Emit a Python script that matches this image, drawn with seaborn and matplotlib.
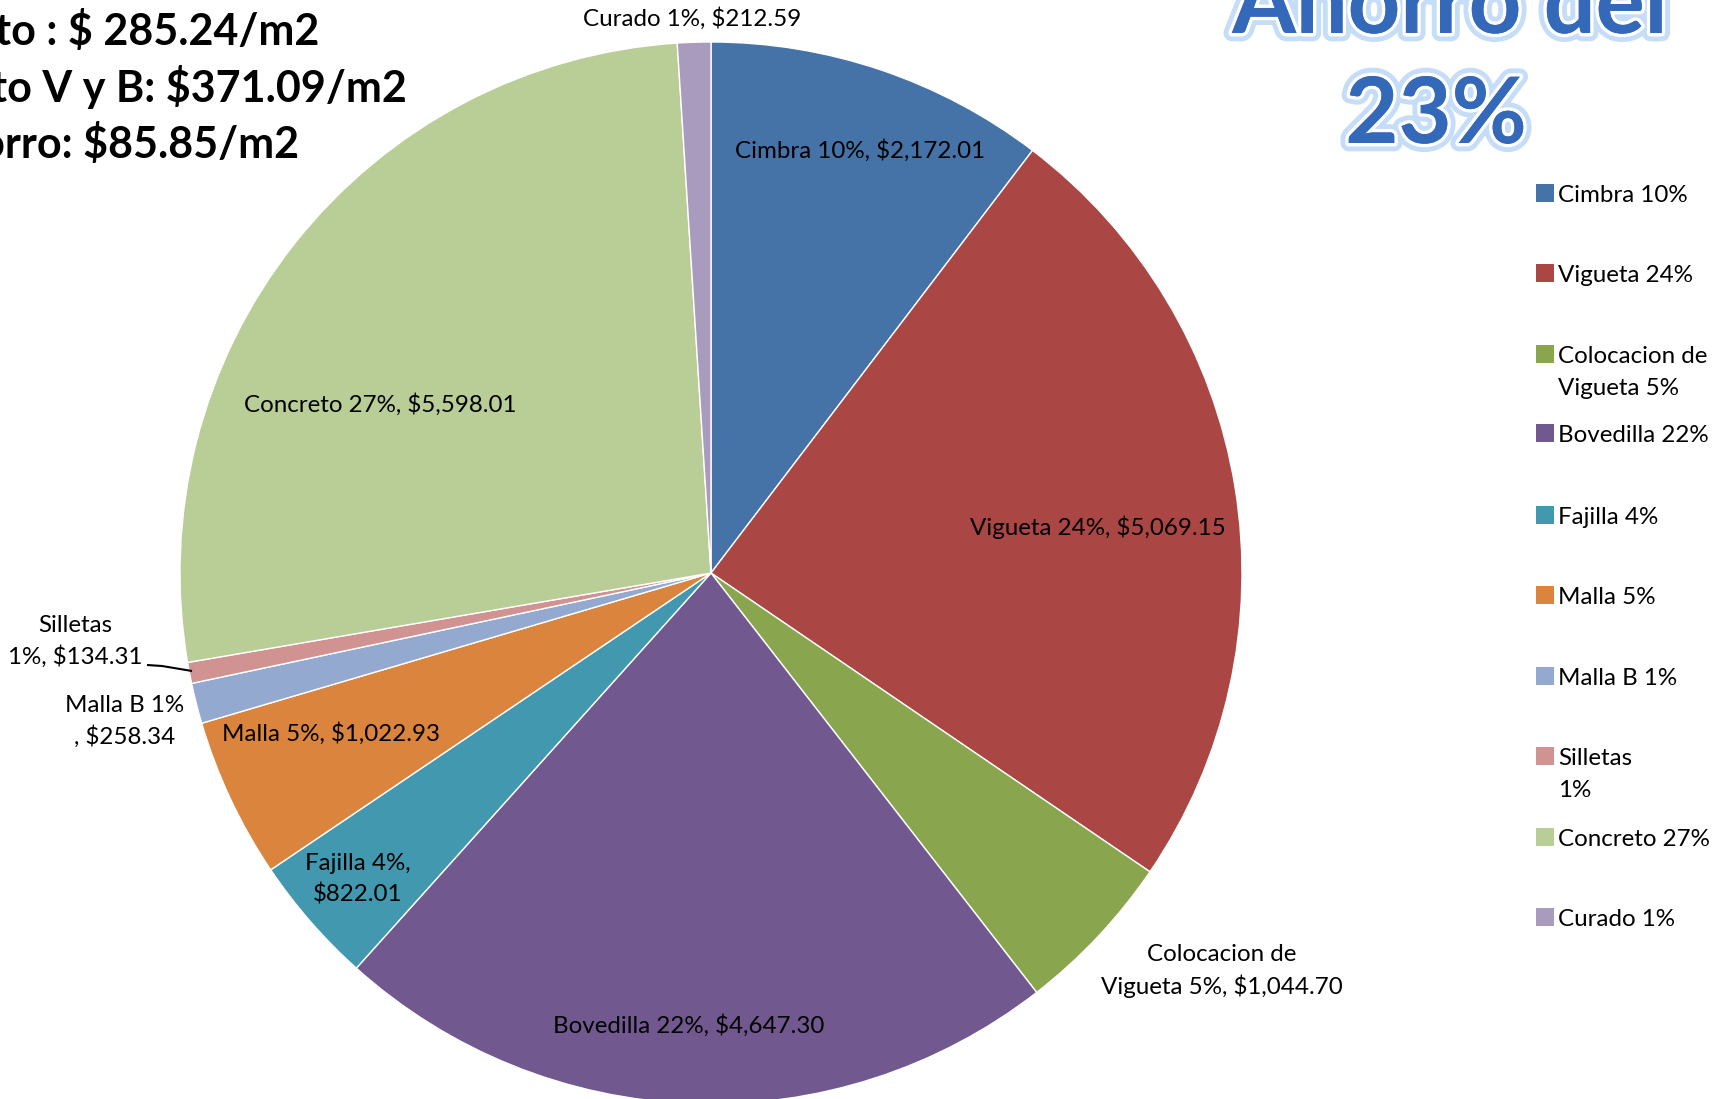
import matplotlib
matplotlib.use("Agg")
import matplotlib.pyplot as plt
import matplotlib.patheffects as pe
import seaborn as sns

# ---- data ----
categories = ["Cimbra", "Vigueta", "Colocacion de Vigueta", "Bovedilla", "Fajilla",
              "Malla", "Malla B", "Silletas", "Concreto", "Curado"]
values = [2172.01, 5069.15, 1044.70, 4647.30, 822.01, 1022.93, 258.34, 134.31, 5598.01, 212.59]
percents = [10, 24, 5, 22, 4, 5, 1, 1, 27, 1]
legend_labels = ["Cimbra 10%", "Vigueta 24%", "Colocacion de\nVigueta 5%", "Bovedilla 22%",
                 "Fajilla 4%", "Malla 5%", "Malla B 1%", "Silletas\n1%", "Concreto 27%", "Curado 1%"]
data_labels = ["Cimbra 10%, $2,172.01", "Vigueta 24%, $5,069.15", "Colocacion de\nVigueta 5%, $1,044.70",
               "Bovedilla 22%, $4,647.30", "Fajilla 4%,\n$822.01", "Malla 5%, $1,022.93",
               "Malla B 1%\n, $258.34", "Silletas\n1%, $134.31", "Concreto 27%, $5,598.01",
               "Curado 1%, $212.59"]
colors_hex = ["#4572A7", "#AA4643", "#89A54E", "#71588F", "#4198AF",
              "#DB843D", "#93A9CF", "#D19392", "#B9CD96", "#A99BBD"]
summary_lines = ["Costo : $ 285.24/m2", "Costo V y B: $371.09/m2", "Ahorro: $85.85/m2"]
title_lines = ["Ahorro del", "23%"]

# ---- style ----
sns.set_theme(style="white")
plt.rcParams["font.family"] = ["Lato", "DejaVu Sans"]
palette = sns.color_palette(colors_hex)

W, H = 1729, 1099
fig = plt.figure(figsize=(W / 100, H / 100), dpi=100)
ax = fig.add_axes([0, 0, 1, 1])

cx, cy, R = 711, 573, 531
ax.pie(values, colors=palette, startangle=-90, counterclock=True,
       center=(cx, cy), radius=R,
       wedgeprops=dict(edgecolor="white", linewidth=1.0))
ax.set_xlim(0, W)
ax.set_ylim(H, 0)
ax.set_aspect("equal")
ax.axis("off")

FS = 17.4
# data labels (positions in pixel coords)
label_pos = [(860, 151), (1098, 527), (1222, 971), (689, 1026), (358, 879),
             (331, 734), (125, 721), (75, 641), (380, 405), (692, 19)]
for txt, (x, y) in zip(data_labels, label_pos):
    ax.text(x, y, txt, ha="center", va="center", fontsize=FS, color="black",
            linespacing=1.5)

# leader line for Silletas
ax.plot([147, 162, 192], [665, 666, 671], color="black", lw=1.5, solid_capstyle="butt")

# legend (manual, Excel-like spacing)
leg_y = [193, 273, 354, 433, 515, 595, 676, 756, 837, 917]
for lab, col, y in zip(legend_labels, palette, leg_y):
    ax.scatter([1545], [y], marker="s", s=150, color=col, edgecolor="none")
    for i, line in enumerate(lab.split("\n")):
        ax.text(1558, y + 9 + i * 32, line, ha="left", va="baseline",
                fontsize=FS, color="black")

# summary text (top-left, partly off-canvas as in reference)
sum_right = [319, 407, 299]
sum_y = [31, 87, 144]
for txt, xr, y in zip(summary_lines, sum_right, sum_y):
    ax.text(xr, y, txt, ha="right", va="center", fontsize=31, fontweight="bold",
            color="black")

# big title with glow
glow = [pe.withStroke(linewidth=12, foreground="#C6DDF7"),
        pe.withStroke(linewidth=5, foreground="white"),
        pe.Normal()]
title_xy = [(1450, 33), (1436, 143)]
for txt, (x, y) in zip(title_lines, title_xy):
    ax.text(x, y, txt, ha="center", va="baseline", fontsize=66,
            fontweight="bold", color="#3468B8", path_effects=glow)

fig.savefig("out.png", dpi=100)
